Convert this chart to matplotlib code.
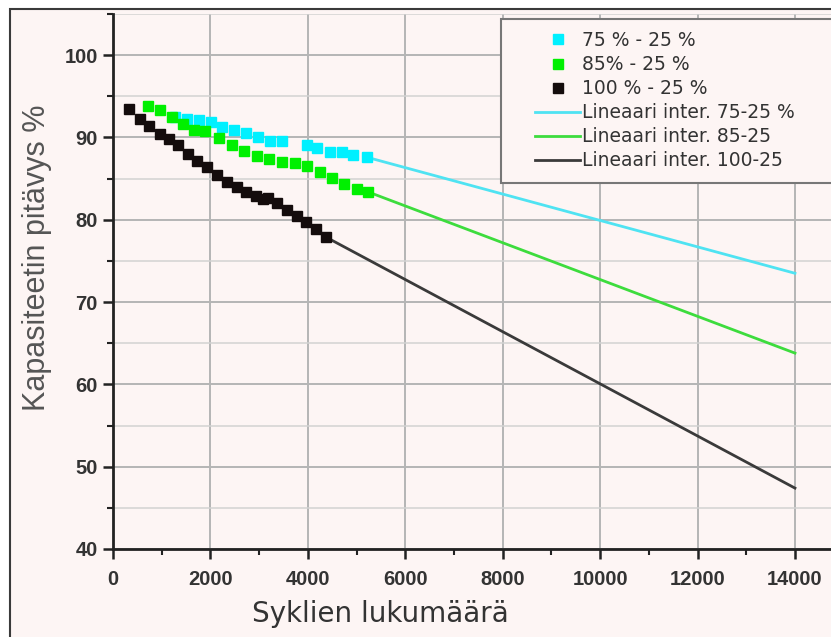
import matplotlib
matplotlib.use("Agg")
import matplotlib.pyplot as plt
from matplotlib.patches import Rectangle
from matplotlib.lines import Line2D
from matplotlib.ticker import MultipleLocator

# Measured points (cycles, capacity retention %)
x_75 = [1270, 1520, 1770, 2010, 2240, 2480, 2730, 2980, 3220, 3470, 3980, 4190, 4450, 4700, 4930, 5210]
y_75 = [92.5, 92.2, 92.1, 91.9, 91.3, 90.9, 90.6, 90.0, 89.6, 89.6, 89.1, 88.7, 88.2, 88.2, 87.9, 87.6]

x_85 = [720, 970, 1210, 1440, 1660, 1890, 2180, 2440, 2690, 2960, 3200, 3470, 3740, 3980, 4250, 4490, 4740, 5010, 5230]
y_85 = [93.8, 93.3, 92.5, 91.6, 90.9, 90.8, 89.9, 89.1, 88.3, 87.7, 87.4, 87.0, 86.9, 86.5, 85.8, 85.1, 84.4, 83.7, 83.4]

x_100 = [330, 550, 740, 960, 1150, 1330, 1540, 1720, 1930, 2130, 2340, 2540, 2730, 2930,
         3080, 3180, 3370, 3570, 3780, 3960, 4170, 4370]
y_100 = [93.4, 92.3, 91.4, 90.4, 89.8, 89.1, 88.0, 87.2, 86.4, 85.5, 84.6, 84.0, 83.4, 82.9,
         82.5, 82.6, 82.0, 81.2, 80.4, 79.7, 78.9, 77.9]

# Linear trend lines (start, end)
fit_x_75 = [5210, 14000]
fit_y_75 = [87.6, 73.5]
fit_x_85 = [5230, 14000]
fit_y_85 = [83.4, 63.8]
fit_x_100 = [4370, 14000]
fit_y_100 = [77.9, 47.4]

labels = ["75 % - 25 %", "85% - 25 %", "100 % - 25 %",
          "Lineaari inter. 75-25 %", "Lineaari inter. 85-25", "Lineaari inter. 100-25"]

W, H = 831, 637
bg = "#fdf5f4"

fig = plt.figure(figsize=(W / 100, H / 100), dpi=100, facecolor="white")

# outer frame
fig.patches.append(Rectangle((10 / W, -0.05), 1.1, (H - 9) / H + 0.05, transform=fig.transFigure,
                             facecolor=bg, edgecolor="#3a3a3a", linewidth=1.5, zorder=-1))

ax = fig.add_axes([113 / W, (H - 549) / H, (W - 113) / W, (549 - 14) / H])
ax.set_facecolor(bg)

ax.plot(fit_x_75, fit_y_75, color="#4fe3f2", lw=2, zorder=2)
ax.plot(fit_x_85, fit_y_85, color="#3ddc3d", lw=2, zorder=2)
ax.plot(fit_x_100, fit_y_100, color="#3a3a3a", lw=2, zorder=2)

ax.plot(x_75, y_75, ls="none", marker="s", ms=7.5, color="#00f0ff", zorder=3)
ax.plot(x_85, y_85, ls="none", marker="s", ms=7.5, color="#00f000", zorder=4)
ax.plot(x_100, y_100, ls="none", marker="s", ms=7.5, color="#140c0c", zorder=5)

ax.set_xlim(0, 14740)
ax.set_ylim(40, 105)
ax.xaxis.set_major_locator(MultipleLocator(2000))
ax.xaxis.set_minor_locator(MultipleLocator(1000))
ax.yaxis.set_major_locator(MultipleLocator(10))
ax.yaxis.set_minor_locator(MultipleLocator(5))
ax.set_yticks(range(40, 101, 10))

ax.grid(True, which="major", color="#b5b5b5", lw=1.4)
ax.grid(True, which="minor", axis="y", color="#d2d2d2", lw=1.1)
ax.set_axisbelow(True)

for s in ["top", "right"]:
    ax.spines[s].set_visible(False)
for s in ["left", "bottom"]:
    ax.spines[s].set_color("#222222")
    ax.spines[s].set_linewidth(2)

ax.tick_params(which="major", direction="out", length=7, width=1.8, color="#222222",
               labelsize=14.5, labelcolor="#333333")
ax.tick_params(axis="x", which="major", pad=8)
ax.tick_params(axis="y", which="major", pad=4)
ax.tick_params(which="minor", direction="out", length=4, width=1.5, color="#222222")
for t in ax.get_xticklabels() + ax.get_yticklabels():
    t.set_fontweight("bold")
    t.set_family("Liberation Sans")

ax.set_ylabel("Kapasiteetin pitävys %", fontsize=22, color="#555555", family="Liberation Sans")
ax.yaxis.set_label_coords(-0.085, 0.545)
ax.set_xlabel("Syklien lukumäärä", fontsize=20, color="#333333", family="DejaVu Sans")
ax.xaxis.set_label_coords(0.372, -0.095)

# legend box
fig.patches.append(Rectangle((501 / W, (H - 183) / H), 0.5, 164 / H, transform=fig.transFigure,
                             facecolor=bg, edgecolor="#777777", linewidth=1.5, zorder=5))

handles = [
    Line2D([], [], ls="none", marker="s", ms=7, color="#00f0ff"),
    Line2D([], [], ls="none", marker="s", ms=7, color="#00f000"),
    Line2D([], [], ls="none", marker="s", ms=7, color="#140c0c"),
    Line2D([], [], color="#4fe3f2", lw=2),
    Line2D([], [], color="#3ddc3d", lw=2),
    Line2D([], [], color="#3a3a3a", lw=2),
]
leg = fig.legend(handles, labels, loc="upper left", bbox_to_anchor=(535 / W, (H - 31) / H),
                 bbox_transform=fig.transFigure, frameon=False, borderpad=0, borderaxespad=0,
                 handlelength=2.4, handletextpad=0.1, labelspacing=0.27,
                 prop={"family": "DejaVu Sans", "size": 13.5})
leg.set_zorder(6)
for t in leg.get_texts():
    t.set_color("#333333")

fig.savefig("out.png", dpi=100, facecolor="white")
